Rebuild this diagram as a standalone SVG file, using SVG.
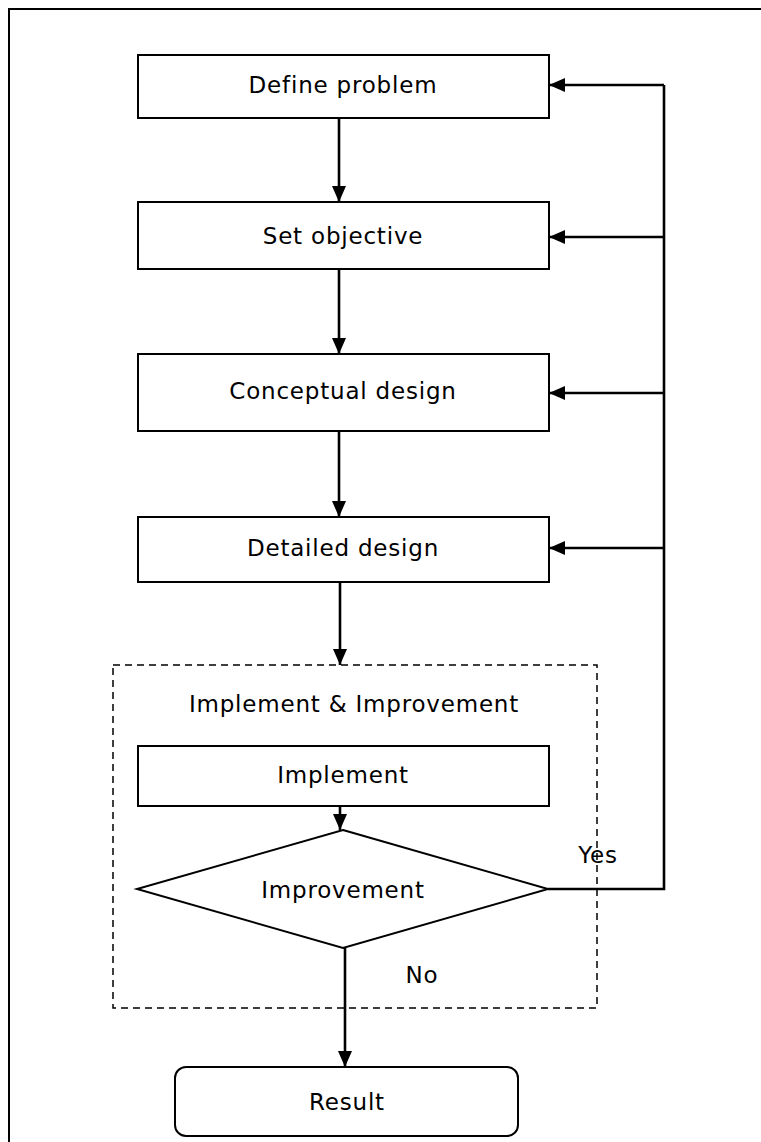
<svg xmlns="http://www.w3.org/2000/svg" width="761" height="1142" viewBox="0 0 761 1142">
  <defs>
    <marker id="arrow" viewBox="0 0 16 14" refX="16" refY="7" markerWidth="16" markerHeight="14" markerUnits="userSpaceOnUse" orient="auto">
      <path d="M0,0 L16,7 L0,14 Z" fill="#000"/>
    </marker>
    <style>
      .box { fill: #fff; stroke: #000; stroke-width: 2; }
      .lbl { font-family: "DejaVu Sans", "Noto Sans", sans-serif; font-size: 23px; letter-spacing: 0.8px; fill: #000; text-anchor: middle; dominant-baseline: central; }
      .conn { fill: none; stroke: #000; stroke-width: 2.6; }
      .arr { marker-end: url(#arrow); }
      .group { fill: none; stroke: #000; stroke-width: 1.5; stroke-dasharray: 7 5; }
    </style>
  </defs>

  <rect width="761" height="1142" fill="#fff"/>
  <!-- page frame -->
  <rect x="9" y="9" width="780" height="1160" fill="none" stroke="#000" stroke-width="2"/>

  <!-- container for the implementation stage -->
  <g id="implement-improvement">
    <rect class="group" x="113" y="665" width="484" height="343"/>
    <text class="lbl" x="354" y="704">Implement &amp; Improvement</text>
  </g>

  <g id="define-problem">
    <rect class="box" x="138" y="55" width="411" height="63"/>
    <text class="lbl" x="343" y="85">Define problem</text>
  </g>
  <g id="set-objective">
    <rect class="box" x="138" y="202" width="411" height="67"/>
    <text class="lbl" x="343" y="236">Set objective</text>
  </g>
  <g id="conceptual-design">
    <rect class="box" x="138" y="354" width="411" height="77"/>
    <text class="lbl" x="343" y="391">Conceptual design</text>
  </g>
  <g id="detailed-design">
    <rect class="box" x="138" y="517" width="411" height="65"/>
    <text class="lbl" x="343" y="548">Detailed design</text>
  </g>
  <g id="implement">
    <rect class="box" x="138" y="746" width="411" height="60"/>
    <text class="lbl" x="343" y="775">Implement</text>
  </g>
  <g id="improvement">
    <polygon class="box" points="343,830 548,889 343,948 137,889"/>
    <text class="lbl" x="343" y="890">Improvement</text>
  </g>
  <g id="result">
    <rect class="box" x="175" y="1067" width="343" height="69" rx="11"/>
    <text class="lbl" x="347" y="1102">Result</text>
  </g>

  <g id="connectors">
    <line class="conn arr" x1="339" y1="118" x2="339" y2="202"/>
    <line class="conn arr" x1="339" y1="269" x2="339" y2="354"/>
    <line class="conn arr" x1="339" y1="431" x2="339" y2="517"/>
    <line class="conn arr" x1="340" y1="582" x2="340" y2="665"/>
    <line class="conn arr" x1="340" y1="806" x2="340" y2="830"/>
    <line class="conn arr" x1="345" y1="948" x2="345" y2="1067"/>
    <!-- feedback loop -->
    <polyline class="conn" points="548,889 664,889 664,85"/>
    <line class="conn arr" x1="664" y1="85" x2="549" y2="85"/>
    <line class="conn arr" x1="664" y1="237" x2="549" y2="237"/>
    <line class="conn arr" x1="664" y1="393" x2="549" y2="393"/>
    <line class="conn arr" x1="664" y1="548" x2="549" y2="548"/>
    <text class="lbl" x="598" y="855">Yes</text>
    <text class="lbl" x="422" y="975">No</text>
  </g>
</svg>
